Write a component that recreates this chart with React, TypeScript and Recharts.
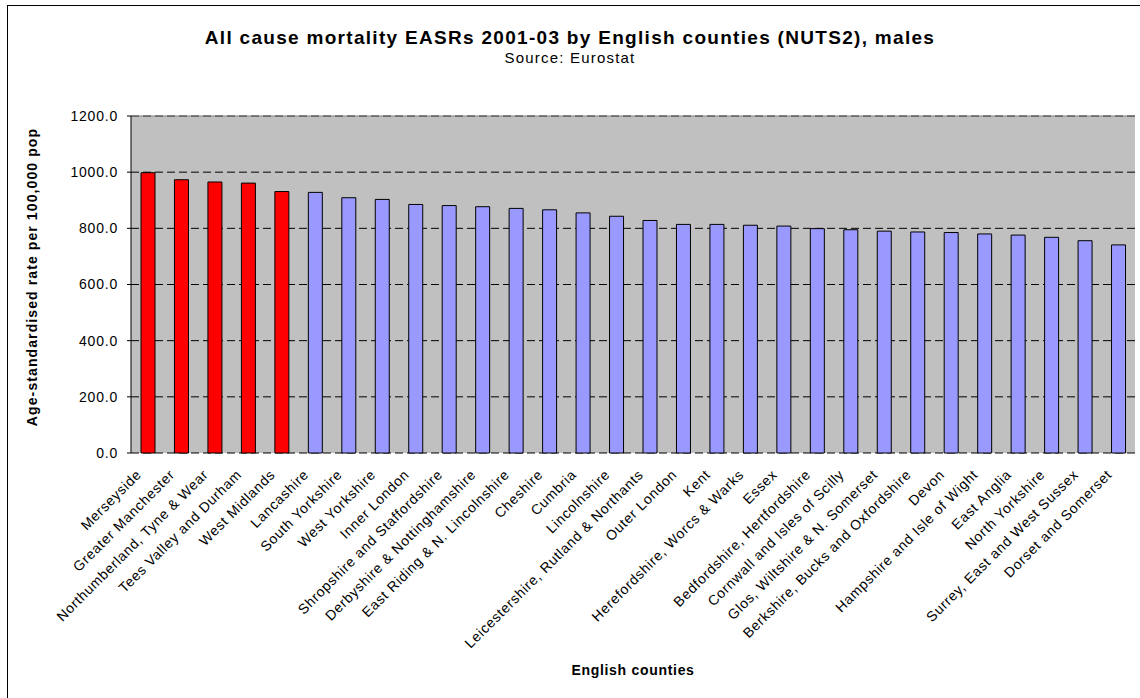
import { BarChart, Bar, XAxis, YAxis, CartesianGrid, Cell, ReferenceLine } from 'recharts'

const counties = [
  'Merseyside',
  'Greater Manchester',
  'Northumberland, Tyne & Wear',
  'Tees Valley and Durham',
  'West Midlands',
  'Lancashire',
  'South Yorkshire',
  'West Yorkshire',
  'Inner London',
  'Shropshire and Staffordshire',
  'Derbyshire & Nottinghamshire',
  'East Riding & N. Lincolnshire',
  'Cheshire',
  'Cumbria',
  'Lincolnshire',
  'Leicestershire, Rutland & Northants',
  'Outer London',
  'Kent',
  'Herefordshire, Worcs & Warks',
  'Essex',
  'Bedfordshire, Hertfordshire',
  'Cornwall and Isles of Scilly',
  'Glos, Wiltshire & N. Somerset',
  'Berkshire, Bucks and Oxfordshire',
  'Devon',
  'Hampshire and Isle of Wight',
  'East Anglia',
  'North Yorkshire',
  'Surrey, East and West Sussex',
  'Dorset and Somerset',
]

const rates = [
  998, 973, 965, 961, 931, 928, 909, 903, 885, 881, 877, 871, 866, 855, 843, 828, 814, 814, 811,
  808, 799, 795, 790, 787, 785, 780, 776, 768, 756, 741,
]

// the five worst areas are shown in red
const highlighted = ['Merseyside', 'Greater Manchester', 'Northumberland, Tyne & Wear', 'Tees Valley and Durham', 'West Midlands']

const yTicks = [0, 200, 400, 600, 800, 1000, 1200]

const data = counties.map((name, i) => ({ name, rate: rates[i] }))
const edgeTicks = Array.from({ length: counties.length + 1 }, (_, i) => i)

const font = '"Liberation Sans", Arial, sans-serif'

function CountyTick({ x, y, payload }: any) {
  return (
    <g transform={`translate(${x - 9},${y + 19})`}>
      <text
        transform="rotate(-45)"
        textAnchor="end"
        dy="0.35em"
        fontSize={14}
        letterSpacing={0.7}
        fontFamily={font}
        fill="#000"
      >
        {payload.value}
      </text>
    </g>
  )
}

export default function App() {
  return (
    <div style={{ position: 'relative', width: 1140, height: 698, background: '#fff', overflow: 'hidden', fontFamily: font }}>
      <style>{'body{margin:0}'}</style>
      <div
        style={{
          position: 'absolute',
          left: 7,
          top: 5,
          width: 1150,
          height: 710,
          border: '1px solid #000',
          boxSizing: 'border-box',
        }}
      />
      <div style={{ position: 'absolute', left: 0, width: 1140, top: 27, textAlign: 'center', fontSize: 19, letterSpacing: 1.3, fontWeight: 'bold', lineHeight: '22px' }}>
        All cause mortality EASRs 2001-03 by English counties (NUTS2), males
      </div>
      <div style={{ position: 'absolute', left: 0, width: 1140, top: 49, textAlign: 'center', fontSize: 15, letterSpacing: 1.2, lineHeight: '18px' }}>
        Source: Eurostat
      </div>
      <div
        style={{
          position: 'absolute',
          left: 32,
          top: 277,
          transform: 'translate(-50%, -50%) rotate(-90deg)',
          whiteSpace: 'nowrap',
          fontSize: 14,
          letterSpacing: 1.1,
          fontWeight: 'bold',
        }}
      >
        Age-standardised rate per 100,000 pop
      </div>
      <div style={{ position: 'absolute', left: 131, width: 1004, top: 662, textAlign: 'center', fontSize: 14, letterSpacing: 0.7, fontWeight: 'bold' }}>
        English counties
      </div>
      <div style={{ position: 'absolute', left: 0, top: 0 }}>
        <BarChart width={1140} height={698} data={data} margin={{ top: 116, right: 5, bottom: 0, left: 0 }}>
          <CartesianGrid vertical={false} fill="#C0C0C0" stroke="#000" strokeDasharray="8 4" />
          <XAxis
            xAxisId="edges"
            type="number"
            domain={[0, counties.length]}
            ticks={edgeTicks}
            height={0}
            tickSize={4}
            tickFormatter={() => ''}
            axisLine={{ stroke: '#000' }}
            tickLine={{ stroke: '#000' }}
            allowDataOverflow
          />
          <XAxis
            dataKey="name"
            interval={0}
            height={245}
            tickSize={0}
            tickMargin={0}
            tickLine={false}
            axisLine={false}
            tick={<CountyTick />}
          />
          <YAxis
            width={131}
            domain={[0, 1200]}
            ticks={yTicks}
            tickFormatter={(v: number) => v.toFixed(1)}
            tick={{ fontSize: 14, fill: '#000', fontFamily: font, letterSpacing: 0.8 }}
            tickSize={4}
            tickMargin={9}
            axisLine={{ stroke: '#000' }}
            tickLine={{ stroke: '#000' }}
          />
          <ReferenceLine y={1200} stroke="#808080" />
          <ReferenceLine x={counties.length} xAxisId="edges" stroke="#808080" />
          <Bar dataKey="rate" barSize={14} stroke="#000" strokeWidth={1} isAnimationActive={false}>
            {data.map((d) => (
              <Cell key={d.name} fill={highlighted.includes(d.name) ? '#FF0000' : '#9999FF'} />
            ))}
          </Bar>
        </BarChart>
      </div>
    </div>
  )
}
